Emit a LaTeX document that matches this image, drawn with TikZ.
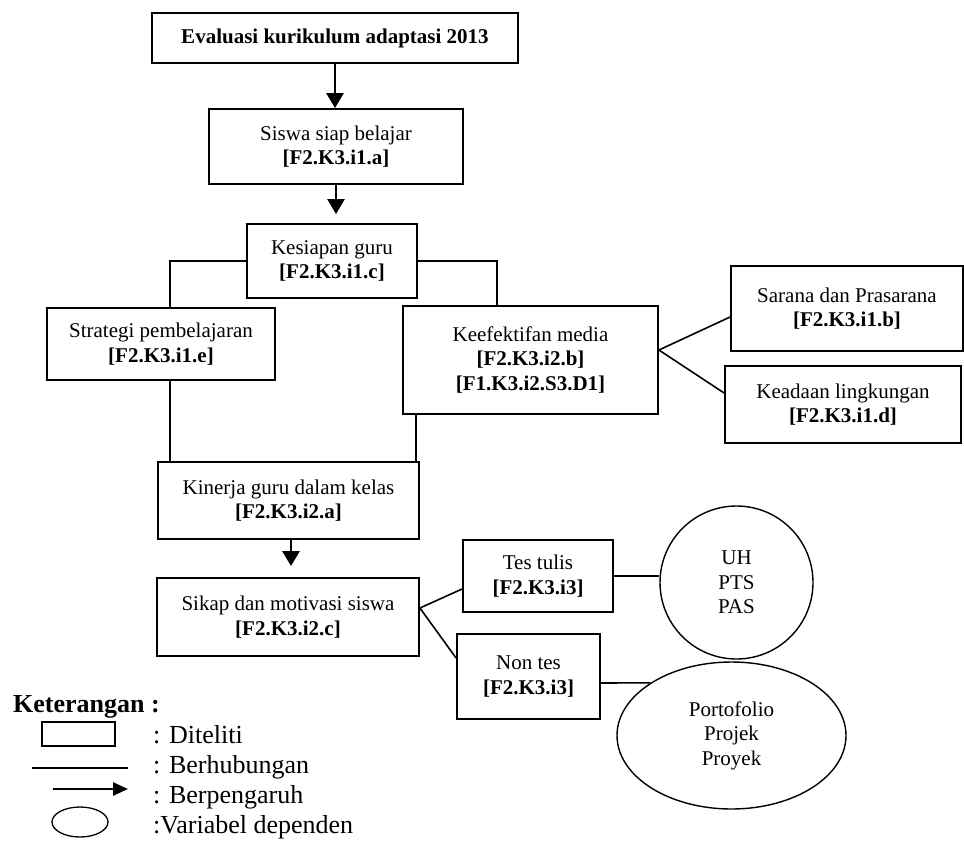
\documentclass[tikz,border=0pt]{standalone}
\usepackage{fontspec}
\setmainfont{Liberation Serif}
\usetikzlibrary{arrows.meta,shapes.geometric}
\begin{document}
\begin{tikzpicture}[x=1pt,y=-1pt,
  txt/.style={font=\fontsize{21}{24.5}\selectfont},
  box/.style={draw, line width=1.8pt, rectangle, align=center, inner sep=0pt, txt},
  link/.style={line width=1.6pt},
  flow/.style={line width=2.6pt, -{Triangle[length=15pt,width=17pt]}},
  oval/.style={draw, line width=1.4pt, ellipse, align=center, inner sep=0pt, txt},
  legtxt/.style={font=\fontsize{26}{30}\selectfont, anchor=base west, inner sep=0pt}]
\useasboundingbox (0,0) rectangle (964,841);

% --- main flow boxes ---
\node[box, minimum width=366pt, minimum height=50pt] (eval) at (335,38)
  {\textbf{Evaluasi kurikulum adaptasi 2013}};
\node[box, minimum width=254pt, minimum height=75pt] (siswa) at (336,146.5)
  {Siswa siap belajar\\\textbf{[F2.K3.i1.a]}};
\node[box, minimum width=170pt, minimum height=74pt] (kesiapan) at (332,261)
  {Kesiapan guru\\\textbf{[F2.K3.i1.c]}};
\node[box, minimum width=228pt, minimum height=72pt] (strategi) at (161,344)
  {Strategi pembelajaran\\\textbf{[F2.K3.i1.e]}};
\node[box, minimum width=255pt, minimum height=108pt] (media) at (530.5,360)
  {Keefektifan media\\\textbf{[F2.K3.i2.b]}\\\textbf{[F1.K3.i2.S3.D1]}};
\node[box, minimum width=232pt, minimum height=85pt] (sarana) at (847,308.5)
  {Sarana dan Prasarana\\\textbf{[F2.K3.i1.b]}};
\node[box, minimum width=236pt, minimum height=77pt] (keadaan) at (843,404.5)
  {Keadaan lingkungan\\\textbf{[F2.K3.i1.d]}};
\node[box, minimum width=261pt, minimum height=77pt] (kinerja) at (288.5,500.5)
  {Kinerja guru dalam kelas\\\textbf{[F2.K3.i2.a]}};
\node[box, minimum width=262pt, minimum height=78pt] (sikap) at (288,617)
  {Sikap dan motivasi siswa\\\textbf{[F2.K3.i2.c]}};
\node[box, minimum width=150pt, minimum height=72pt] (tes) at (538,576)
  {Tes tulis\\\textbf{[F2.K3.i3]}};
\node[box, minimum width=143pt, minimum height=85pt] (nontes) at (528.5,676.5)
  {Non tes\\\textbf{[F2.K3.i3]}};

% --- assessment forms ---
\node[oval, circle, minimum size=153pt] (uh) at (736.5,582.5) {UH\\PTS\\PAS};
\node[oval, minimum width=229pt, minimum height=147pt] (porto) at (731.5,735.5)
  {Portofolio\\Projek\\Proyek};

% --- influence arrows ---
\draw[flow] (eval.south) -- (eval.south |- siswa.north);
\draw[flow, shorten >=9pt] (siswa.south) -- (siswa.south |- kesiapan.north);
\draw[flow, shorten >=11pt] ([xshift=2.5pt]kinerja.south) -- ([xshift=2.5pt]kinerja.south |- sikap.north);

% --- relations ---
\draw[link] (kesiapan.west) -| ([xshift=9pt]strategi.north);
\draw[link] (kesiapan.east) -| ([xshift=-33.5pt]media.north);
\draw[link] ([xshift=9pt]strategi.south) -- ([xshift=9pt]strategi.south |- kinerja.north);
\draw[link] ([xshift=14pt]media.south west) -- ([xshift=14pt]media.south west |- kinerja.north);
\draw[link] ([yshift=10pt]media.east) -- ([yshift=-8.5pt]sarana.west);
\draw[link] ([yshift=10pt]media.east) -- ([yshift=11.5pt]keadaan.west);
\draw[link] ([yshift=9pt]sikap.east) -- ([yshift=-13pt]tes.west);
\draw[link] ([yshift=9pt]sikap.east) -- ([yshift=18.5pt]nontes.west);
\draw[link] (tes.east) -- (tes.east -| uh.west);
\draw[link] ([yshift=-6.5pt]nontes.east) -- (porto.147);

% --- legend ---
\node[legtxt] (keterangan) at (13,712) {\textbf{Keterangan :}};
\draw[line width=1.3pt] (42,722) rectangle (115,746);
\draw[line width=1.3pt] (32,768) -- (128,768);
\draw[line width=2.5pt, -{Triangle[length=15pt,width=13pt]}] (53,789) -- (128,789);
\draw[line width=1.3pt] (80,822) ellipse [x radius=28, y radius=15];
\node[legtxt] (lditeliti) at (153,743) {: Diteliti};
\node[legtxt] (lberhub) at (153,773) {: Berhubungan};
\node[legtxt] (lberpeng) at (153,803) {: Berpengaruh};
\node[legtxt] (lvar) at (153,833) {:Variabel dependen};
\end{tikzpicture}
\end{document}
